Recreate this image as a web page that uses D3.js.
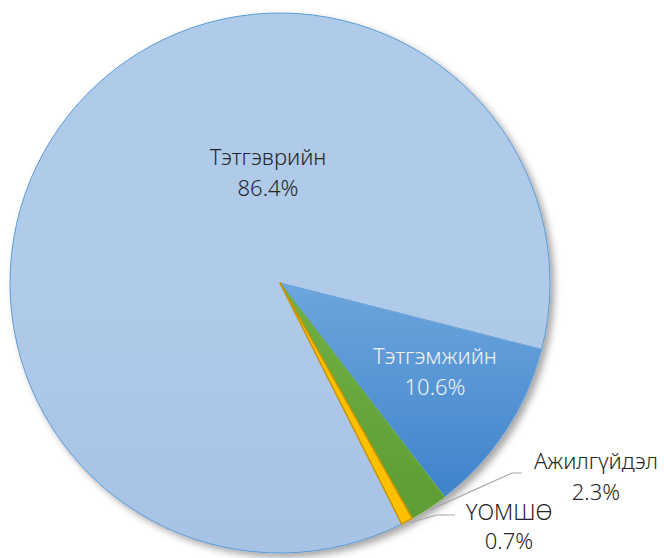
<!DOCTYPE html>
<html>
    <head>
        <style>
            body{
                margin: 0;
                background: #ffffff;
            }
            text{
                font-family: "Noto Sans", "Open Sans", sans-serif;
                font-weight: 300;
            }
        </style>
        <script src="https://d3js.org/d3.v7.min.js"></script>
    </head>
    <body>
        <script>
        // data
        const categories = ["Тэтгэврийн", "Тэтгэмжийн", "Ажилгүйдэл", "ҮОМШӨ"];
        const shares = [86.4, 10.6, 2.3, 0.7];
        const percentLabels = ["86.4%", "10.6%", "2.3%", "0.7%"];

        const w = 664;
        const h = 558;
        const cx = 280, cy = 283, radius = 270;
        const firstSliceAngle = 153.2; // degrees, like excel's "angle of first slice"

        const fills = ["url(#gMain)", "url(#gBenefit)", "url(#gGreen)", "#ffc000"];
        const strokes = ["#5b9bd5", "#6fa6dc", "#70ad47", "#c99400"];
        const textColors = ["#262626", "#f2f2f2", "#262626", "#262626"];
        // label centre relative to pie centre; outside ones get a leader line
        const labelSpec = [
            {inside: true, x: -12, y: -103},
            {inside: true, x: 155, y: 96},
            {inside: false, x: 316, y: 201, lineY: 190, elbow: 232, lineEnd: 242},
            {inside: false, x: 229, y: 252, lineY: 232, elbow: 157, lineEnd: 175}
        ];

        const svg = d3.select("body")
                    .append("svg")
                    .attr("width", w)
                    .attr("height", h);

        const defs = svg.append("defs");
        const gMain = defs.append("linearGradient").attr("id", "gMain")
                    .attr("gradientUnits", "userSpaceOnUse")
                    .attr("x1", 0).attr("y1", cy - radius).attr("x2", 0).attr("y2", cy + radius);
        gMain.append("stop").attr("offset", "0%").attr("stop-color", "#b0cae9");
        gMain.append("stop").attr("offset", "100%").attr("stop-color", "#9bb9e0");

        const gBenefit = defs.append("linearGradient").attr("id", "gBenefit")
                    .attr("x1", 0).attr("y1", 0).attr("x2", 0).attr("y2", 1);
        gBenefit.append("stop").attr("offset", "0%").attr("stop-color", "#6ea6dd");
        gBenefit.append("stop").attr("offset", "100%").attr("stop-color", "#3e83cb");

        const gGreen = defs.append("linearGradient").attr("id", "gGreen")
                    .attr("x1", 0).attr("y1", 0).attr("x2", 0).attr("y2", 1);
        gGreen.append("stop").attr("offset", "0%").attr("stop-color", "#72b044");
        gGreen.append("stop").attr("offset", "100%").attr("stop-color", "#5c9d33");

        const shadow = defs.append("filter").attr("id", "shadow")
                    .attr("x", "-10%").attr("y", "-10%").attr("width", "125%").attr("height", "125%");
        shadow.append("feDropShadow")
                .attr("dx", 4).attr("dy", 4).attr("stdDeviation", 3.5)
                .attr("flood-color", "#000").attr("flood-opacity", 0.35);

        const pie = d3.pie()
                    .sort(null)
                    .value(d => d)
                    .startAngle(firstSliceAngle * Math.PI / 180)
                    .endAngle(firstSliceAngle * Math.PI / 180 + 2 * Math.PI);
        const arcs = pie(shares);

        const arc = d3.arc().innerRadius(0).outerRadius(radius);

        const g = svg.append("g")
                    .attr("transform", "translate(" + cx + "," + cy + ")");

        g.append("g")
            .attr("filter", "url(#shadow)")
            .selectAll("path")
            .data(arcs)
            .enter()
            .append("path")
            .attr("d", arc)
            .style("fill", (d, i) => fills[i])
            .style("stroke", (d, i) => strokes[i])
            .style("stroke-width", (d, i) => i == 3 ? 1.5 : 1)
            .style("stroke-linejoin", "round");

        // leader lines for the small slices
        arcs.forEach((d, i) => {
            const spec = labelSpec[i];
            if (spec.inside) return;
            const mid = (d.startAngle + d.endAngle) / 2;
            const px = Math.sin(mid) * (radius + 2);
            const py = -Math.cos(mid) * (radius + 2);
            g.append("polyline")
                .attr("points", [[px, py], [spec.elbow, spec.lineY], [spec.lineEnd, spec.lineY]].map(p => p.join(",")).join(" "))
                .style("fill", "none")
                .style("stroke", "#a6a6a6")
                .style("stroke-width", 1.2);
        });

        const labels = g.selectAll("text.lbl")
                    .data(arcs)
                    .enter()
                    .append("text")
                    .attr("class", "lbl")
                    .attr("text-anchor", "middle")
                    .style("font-size", "22px")
                    .style("fill", (d, i) => textColors[i]);

        labels.append("tspan")
            .attr("x", (d, i) => labelSpec[i].x)
            .attr("y", (d, i) => labelSpec[i].y - 15)
            .text((d, i) => categories[i]);
        labels.append("tspan")
            .attr("x", (d, i) => labelSpec[i].x)
            .attr("y", (d, i) => labelSpec[i].y + (i == 3 ? 14 : 16))
            .text((d, i) => percentLabels[i]);
        </script>
    </body>
</html>
